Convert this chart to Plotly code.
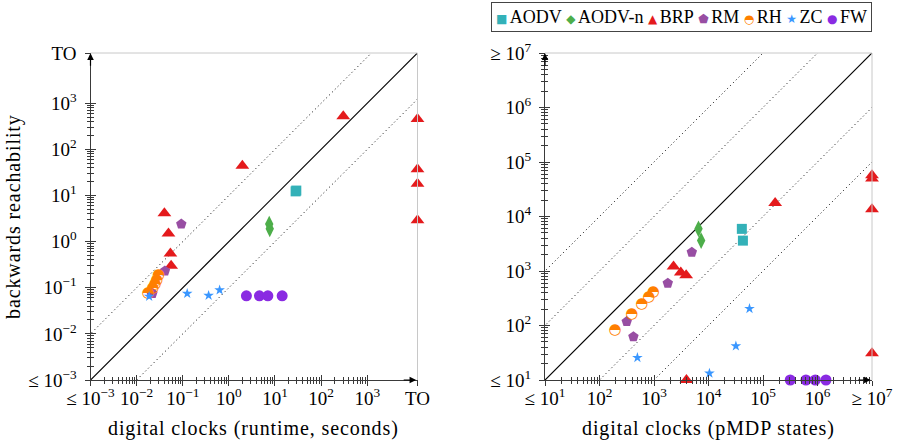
import plotly.graph_objects as go

# ---------------- data ----------------
TO_RUNTIME = 10 ** 4.09   # position used for "TO" (timeout) on runtime axes
MIN_RUNTIME = 1e-3        # "≤ 10^-3"
MIN_STATES = 1e1          # "≤ 10^1"
MAX_STATES = 1e7          # "≥ 10^7"

series = ["AODV", "AODV-n", "BRP", "RM", "RH", "ZC", "FW"]

# runtime in seconds: x = digital clocks, y = backwards reachability
aodv_rt_x = [28.0, 29.0]
aodv_rt_y = [12.3, 12.8]
aodvn_rt_x = [7.5, 7.7]
aodvn_rt_y = [2.4, 1.9]
brp_rt_x = [302, TO_RUNTIME, TO_RUNTIME, TO_RUNTIME, TO_RUNTIME, 1.96, 0.040, 0.049, 0.054, 0.056]
brp_rt_y = [525, 454, 37, 18, 2.9, 44, 4.1, 1.5, 0.55, 0.30]
rm_rt_x = [0.093, 0.041, 0.0207, 0.022]
rm_rt_y = [2.4, 0.23, 0.079, 0.075]
rh_rt_x = [0.0178, 0.0225, 0.025, 0.0275, 0.030]
rh_rt_y = [0.077, 0.097, 0.117, 0.148, 0.19]
zc_rt_x = [0.0187, 0.125, 0.364, 0.63]
zc_rt_y = [0.065, 0.075, 0.068, 0.089]
fw_rt_x = [2.4, 4.6, 7.0, 14.3]
fw_rt_y = [0.067, 0.067, 0.067, 0.067]

# pMDP states: x = digital clocks, y = backwards reachability
aodv_st_x = [40900, 42800]
aodv_st_y = [5930, 3610]
aodvn_st_x = [6550, 7330]
aodvn_st_y = [5930, 3610]
brp_st_x = [2280, 3100, 3890, 167000, 3940, MAX_STATES, MAX_STATES, MAX_STATES, MAX_STATES]
brp_st_y = [1205, 935, 838, 17600, MIN_STATES, 50000, 57000, 13600, 31]
rm_st_x = [316, 419, 1790, 4940]
rm_st_y = [118, 62, 597, 2210]
rh_st_x = [193, 391, 597, 802, 975]
rh_st_y = [83, 163, 249, 324, 402]
zc_st_x = [496, 10400, 31800, 56500]
zc_st_y = [25.7, 13.3, 42, 204]
fw_st_x = [316000, 614000, 910000, 1430000]
fw_st_y = [MIN_STATES] * 4

rt_tickvals = [1e-3, 1e-2, 1e-1, 1e0, 1e1, 1e2, 1e3, TO_RUNTIME]
rt_ticktext = ["≤ 10<sup>−3</sup>", "10<sup>−2</sup>", "10<sup>−1</sup>", "10<sup>0</sup>",
               "10<sup>1</sup>", "10<sup>2</sup>", "10<sup>3</sup>", "TO"]
st_tickvals = [1e1, 1e2, 1e3, 1e4, 1e5, 1e6, 1e7]
st_ticktext = ["≤ 10<sup>1</sup>", "10<sup>2</sup>", "10<sup>3</sup>", "10<sup>4</sup>",
               "10<sup>5</sup>", "10<sup>6</sup>", "≥ 10<sup>7</sup>"]
rt_diag_factors = [10, 1, 0.1]
st_diag_factors = [100, 10, 1, 0.1, 0.01]

# ---------------- styles ----------------
FONT = "Liberation Serif, DejaVu Serif, serif"
FS = 19
colors = {"AODV": "#33b1b8", "AODV-n": "#4dae4a", "BRP": "#e41a1c", "RM": "#984ea3",
          "RH": "#ff7f00", "ZC": "#3a97ff", "FW": "#8a2be2"}
symbols = {"AODV": "square", "AODV-n": "diamond-tall", "BRP": "triangle-up",
           "RM": "pentagon", "ZC": "star", "FW": "circle"}
sizes = {"AODV": 10, "AODV-n": 12, "BRP": 12, "RM": 11, "ZC": 8, "FW": 11}
glyphs = {"AODV": "■", "AODV-n": "◆", "BRP": "▲", "RM": "⬟", "RH": "◓", "ZC": "★", "FW": "●"}

rt_data = {"AODV": (aodv_rt_x, aodv_rt_y), "AODV-n": (aodvn_rt_x, aodvn_rt_y),
           "BRP": (brp_rt_x, brp_rt_y), "RM": (rm_rt_x, rm_rt_y), "RH": (rh_rt_x, rh_rt_y),
           "ZC": (zc_rt_x, zc_rt_y), "FW": (fw_rt_x, fw_rt_y)}
st_data = {"AODV": (aodv_st_x, aodv_st_y), "AODV-n": (aodvn_st_x, aodvn_st_y),
           "BRP": (brp_st_x, brp_st_y), "RM": (rm_st_x, rm_st_y), "RH": (rh_st_x, rh_st_y),
           "ZC": (zc_st_x, zc_st_y), "FW": (fw_st_x, fw_st_y)}

W, H = 901, 445
plot_top, plot_bottom = 53, 380
ydom = [(H - plot_bottom) / H, (H - plot_top) / H]
left_dom = [90.5 / W, 417.5 / W]
right_dom = [545 / W, 872 / W]

fig = go.Figure()


def add_panel(data, xa, ya, lo, hi, factors):
    # reference diagonals
    for f in factors:
        fig.add_trace(go.Scatter(
            x=[lo / 100, hi * 100], y=[lo / 100 * f, hi * 100 * f], mode="lines",
            line=dict(color="black", width=1.2 if f == 1 else 1.0,
                      dash="solid" if f == 1 else "1px,3px"),
            xaxis=xa, yaxis=ya, showlegend=False, hoverinfo="skip"))
    for name in series:
        xs, ys = data[name]
        if name == "RH":
            fig.add_trace(go.Scatter(
                x=xs, y=ys, mode="text", text=[glyphs["RH"]] * len(xs),
                textposition="middle center",
                textfont=dict(family="DejaVu Sans", size=15, color=colors["RH"]),
                cliponaxis=False, xaxis=xa, yaxis=ya, showlegend=False, name=name))
        else:
            fig.add_trace(go.Scatter(
                x=xs, y=ys, mode="markers", name=name, cliponaxis=False,
                marker=dict(symbol=symbols[name], size=sizes[name], color=colors[name],
                            line=dict(width=0)),
                xaxis=xa, yaxis=ya, showlegend=False))


add_panel(rt_data, "x", "y", MIN_RUNTIME, TO_RUNTIME, rt_diag_factors)
add_panel(st_data, "x2", "y2", MIN_STATES, MAX_STATES, st_diag_factors)

# dummy traces so the overlay (tick-crossing) axes are drawn
for xa, ya in [("x", "y3"), ("x3", "y"), ("x2", "y4"), ("x4", "y2")]:
    fig.add_trace(go.Scatter(x=[None], y=[None], xaxis=xa, yaxis=ya, showlegend=False,
                             hoverinfo="skip"))

rt_minor = [m * 10 ** k for k in range(-3, 3) for m in range(2, 10)]
st_minor = [m * 10 ** k for k in range(1, 7) for m in range(2, 10)]
rt_range = [-3, 4.09]
st_range = [1, 7]
AX = "#3a3a3a"


def axis(rng, tv, tt, minor, dom, anchor, inside, is_x, overlay=None, labels=True):
    d = dict(type="log", range=rng, domain=dom, anchor=anchor, showgrid=False, zeroline=False,
             tickmode="array", tickvals=tv, ticktext=tt if labels else None,
             ticks="inside" if inside else "outside", ticklen=5, tickwidth=1, tickcolor=AX,
             minor=dict(tickmode="array", tickvals=minor, ticks="inside" if inside else "outside",
                        ticklen=3, tickwidth=0.8, tickcolor=AX, showgrid=False),
             showticklabels=labels, automargin=False, fixedrange=True,
             tickfont=dict(family=FONT, size=FS, color="black"),
             showline=inside, linecolor=AX, linewidth=1.3)
    if labels:
        d["ticklabelstandoff"] = 1 if is_x else 9
    if overlay:
        d["overlaying"] = overlay
        d["side"] = "bottom" if is_x else "left"
    return d


fig.update_layout(
    xaxis=axis(rt_range, rt_tickvals, rt_ticktext, rt_minor, left_dom, "y", True, True),
    yaxis=axis(rt_range, rt_tickvals, rt_ticktext, rt_minor, ydom, "x", True, False),
    xaxis3=axis(rt_range, rt_tickvals, rt_ticktext, rt_minor, left_dom, "y", False, True, "x", False),
    yaxis3=axis(rt_range, rt_tickvals, rt_ticktext, rt_minor, ydom, "x", False, False, "y", False),
    xaxis2=axis(st_range, st_tickvals, st_ticktext, st_minor, right_dom, "y2", True, True),
    yaxis2=axis(st_range, st_tickvals, st_ticktext, st_minor, ydom, "x2", True, False),
    xaxis4=axis(st_range, st_tickvals, st_ticktext, st_minor, right_dom, "y2", False, True, "x2", False),
    yaxis4=axis(st_range, st_tickvals, st_ticktext, st_minor, ydom, "x2", False, False, "y2", False),
)

shapes = []
annotations = []
for xr, yr in [("x", "y"), ("x2", "y2")]:
    # light frame on top and right
    shapes.append(dict(type="line", xref=f"{xr} domain", yref=f"{yr} domain", x0=0, x1=1, y0=1, y1=1,
                       line=dict(color="#c8c8c8", width=1)))
    shapes.append(dict(type="line", xref=f"{xr} domain", yref=f"{yr} domain", x0=1, x1=1, y0=0, y1=1,
                       line=dict(color="#c8c8c8", width=1)))
    # axis arrows
    annotations.append(dict(xref=f"{xr} domain", yref=f"{yr} domain", x=0.996, y=0, ax=-14, ay=0,
                            text="", showarrow=True, arrowhead=2, arrowsize=1.1, arrowwidth=1.2,
                            arrowcolor="black"))
    annotations.append(dict(xref=f"{xr} domain", yref=f"{yr} domain", x=0, y=0.999, ax=0, ay=14,
                            text="", showarrow=True, arrowhead=2, arrowsize=1.1, arrowwidth=1.2,
                            arrowcolor="black"))

title_font = dict(family=FONT, size=20, color="black")
SP = "<span style='letter-spacing:0.9px'>{}</span>"
annotations += [
    dict(xref="paper", yref="paper", x=254 / W, y=(H - 428) / H,
         text=SP.format("digital clocks (runtime, seconds)"),
         showarrow=False, font=title_font, xanchor="center", yanchor="middle"),
    dict(xref="paper", yref="paper", x=708.5 / W, y=(H - 428) / H,
         text=SP.format("digital clocks (pMDP states)"),
         showarrow=False, font=title_font, xanchor="center", yanchor="middle"),
    dict(xref="paper", yref="paper", x=13.5 / W, y=(H - 216.5) / H,
         text=SP.format("backwards reachability"),
         showarrow=False, font=title_font, textangle=-90, xanchor="center", yanchor="middle"),
]

legend_parts = []
for name in series:
    legend_parts.append(
        f"<span style='font-family:DejaVu Sans;font-size:12px;fill:{colors[name]}'>{glyphs[name]}</span>"
        f"<span style='font-size:10px'>\u00a0</span>{name}")
annotations.append(dict(
    xref="paper", yref="paper", x=681.7 / W, y=(H - 17) / H, xanchor="center", yanchor="middle",
    text="<span style='font-size:18px'>\u00a0</span>".join(legend_parts), showarrow=False,
    font=dict(family=FONT, size=18, color="black"),
    bordercolor="#444", borderwidth=1, borderpad=4, bgcolor="white"))

fig.update_layout(
    width=W, height=H, autosize=False, template="none",
    margin=dict(l=0, r=0, t=0, b=0),
    paper_bgcolor="white", plot_bgcolor="white",
    showlegend=False, shapes=shapes, annotations=annotations,
    font=dict(family=FONT, size=FS, color="black"),
)

fig.write_html("out.html", config={"displayModeBar": False},
               post_script="document.body.style.margin='0';document.body.style.padding='0';")
